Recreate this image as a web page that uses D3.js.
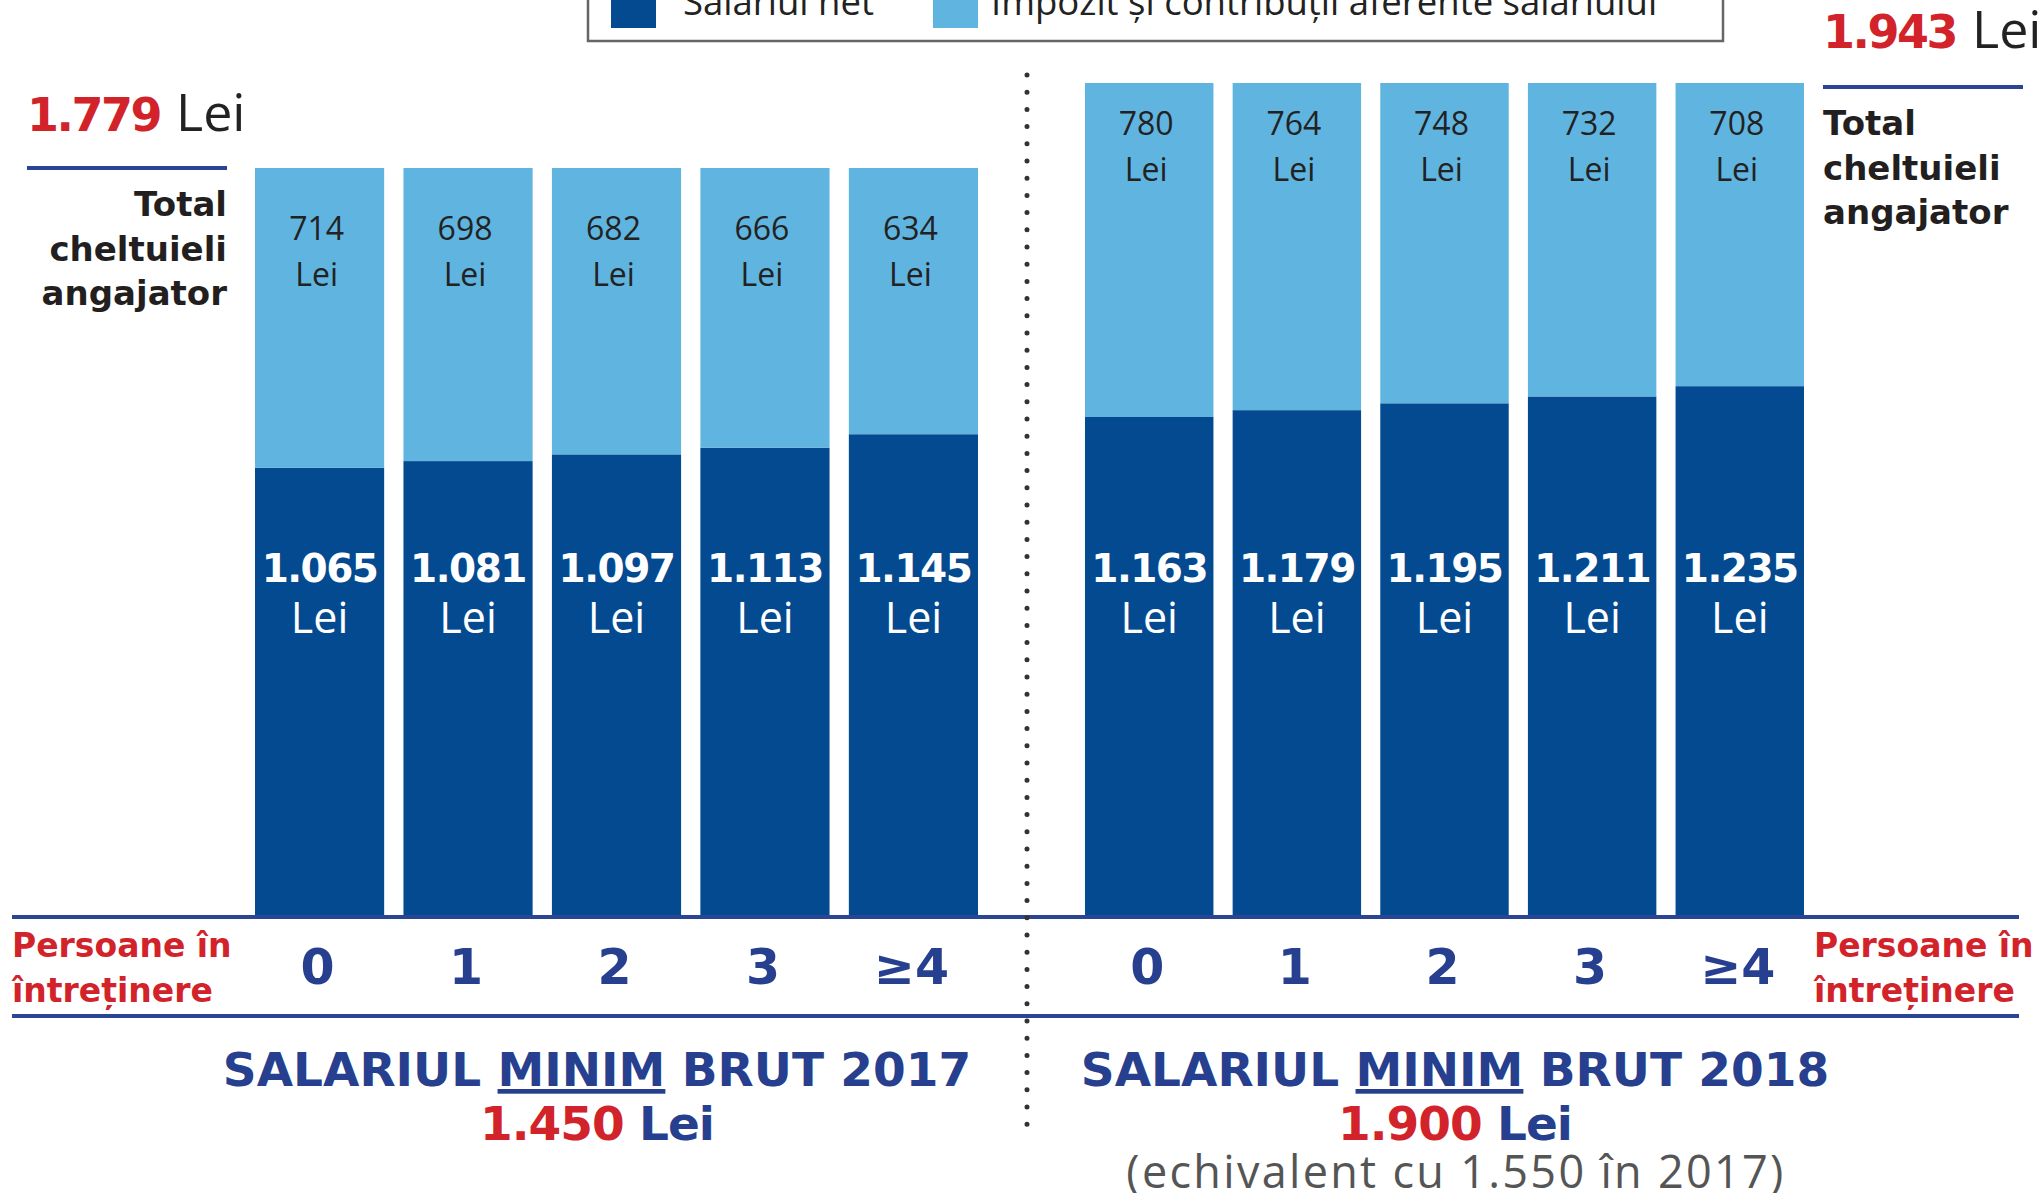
<!DOCTYPE html>
<html>
<head>
<meta charset="utf-8">
<script src="https://cdn.jsdelivr.net/npm/d3@7"></script>
<style>
  html, body { margin: 0; padding: 0; background: #fff; }
  svg { display: block; }
</style>
</head>
<body>
<script>
// ---------- DATA ----------
const categories = ["0", "1", "2", "3", "≥4"];
const net2017 = [1065, 1081, 1097, 1113, 1145];
const tax2017 = [714, 698, 682, 666, 634];
const net2018 = [1163, 1179, 1195, 1211, 1235];
const tax2018 = [780, 764, 748, 732, 708];
const years = [2017, 2018];
const totalCost = [1779, 1943];
const grossWage = [1450, 1900];
const notes = ["", "(echivalent cu 1.550 în 2017)"];
const legendLabels = ["Salariul net", "Impozit și contribuții aferente salariului"];
const axisTitle = ["Persoane în", "întreținere"];
const totalLabel = ["Total", "cheltuieli", "angajator"];

// ---------- STYLE / LAYOUT ----------
const W = 2042, H = 1193;
const C_NET = "#034a91", C_TAX = "#60b4e0", C_RED = "#d2232a", C_NAVY = "#263f8e", C_LINE = "#2b4595";
const BOLD = "'DejaVu Sans', sans-serif";
const REG = "'Open Sans', sans-serif";
const baseY = 915;
const layout = [
  { x0: 255, x1: 978, top: 168, taxDy: 72, center: 597 },
  { x0: 1085, x1: 1804, top: 83, taxDy: 52, center: 1455 }
];
const fmt = d3.formatLocale({ decimal: ",", thousands: ".", grouping: [3], currency: ["", ""] }).format(",");

const panels = [
  { net: net2017, tax: tax2017 },
  { net: net2018, tax: tax2018 }
];

const svg = d3.select("body").append("svg").attr("width", W).attr("height", H);

// ---------- LEGEND ----------
const lg = svg.append("g");
lg.append("rect").attr("x", 588).attr("y", -30).attr("width", 1135).attr("height", 71)
  .attr("fill", "#fff").attr("stroke", "#666").attr("stroke-width", 2.5);
const legendX = [611, 933];
const legendTextDx = [72, 58];
legendLabels.forEach((lab, i) => {
  lg.append("rect").attr("x", legendX[i]).attr("y", -20).attr("width", 45).attr("height", 48)
    .attr("fill", i === 0 ? C_NET : C_TAX);
  lg.append("text").attr("x", legendX[i] + legendTextDx[i]).attr("y", 15)
    .attr("font-family", REG).attr("font-size", 36.5).attr("fill", "#222").text(lab);
});

// ---------- BARS ----------
panels.forEach((p, k) => {
  const L = layout[k];
  const x = d3.scaleBand().domain(categories).range([L.x0, L.x1]).paddingInner(0.13).paddingOuter(0);
  const y = d3.scaleLinear().domain([0, totalCost[k]]).range([baseY, L.top]);
  const rows = categories.map((c, i) => ({ c, net: p.net[i], tax: p.tax[i] }));
  const g = svg.append("g");

  g.selectAll(".net").data(rows).join("rect")
    .attr("x", d => x(d.c)).attr("width", x.bandwidth())
    .attr("y", d => y(d.net)).attr("height", d => y(0) - y(d.net))
    .attr("fill", C_NET);
  g.selectAll(".tax").data(rows).join("rect")
    .attr("x", d => x(d.c)).attr("width", x.bandwidth())
    .attr("y", d => y(d.net + d.tax)).attr("height", d => y(d.net) - y(d.net + d.tax))
    .attr("fill", C_TAX);

  // tax labels
  const tl = g.selectAll(".tl").data(rows).join("text")
    .attr("text-anchor", "middle").attr("font-family", REG).attr("font-size", 32).attr("fill", "#222");
  tl.append("tspan").attr("x", d => x(d.c) + x.bandwidth() / 2 - 3)
    .attr("y", d => y(d.net + d.tax) + L.taxDy).text(d => fmt(d.tax));
  tl.append("tspan").attr("x", d => x(d.c) + x.bandwidth() / 2 - 3)
    .attr("y", d => y(d.net + d.tax) + L.taxDy + 46).text("Lei");

  // net labels
  g.selectAll(".nl").data(rows).join("text")
    .attr("x", d => x(d.c) + x.bandwidth() / 2).attr("y", 582)
    .attr("text-anchor", "middle").attr("font-family", BOLD).attr("font-weight", "bold")
    .attr("font-size", 39).attr("letter-spacing", -1.5).attr("fill", "#fff").text(d => fmt(d.net));
  g.selectAll(".nl2").data(rows).join("text")
    .attr("x", d => x(d.c) + x.bandwidth() / 2).attr("y", 633)
    .attr("text-anchor", "middle").attr("font-family", REG).attr("font-size", 43)
    .attr("fill", "#fff").text("Lei");

  // category axis
  const ax = svg.append("g").attr("transform", `translate(0,${917})`)
    .call(d3.axisBottom(x).tickSize(0));
  ax.select(".domain").remove();
  ax.selectAll("text").attr("dy", null).attr("y", 67).attr("dx", -2)
    .attr("font-family", BOLD).attr("font-weight", "bold").attr("font-size", 49).attr("fill", C_NAVY);

  // bottom titles
  const t = svg.append("text").attr("x", L.center).attr("y", 1086).attr("text-anchor", "middle")
    .attr("font-family", BOLD).attr("font-weight", "bold").attr("font-size", 47).attr("fill", C_NAVY);
  t.append("tspan").text("SALARIUL ");
  t.append("tspan").attr("text-decoration", "underline").text("MINIM");
  t.append("tspan").text(" BRUT " + years[k]);

  const gw = svg.append("text").attr("x", L.center).attr("y", 1140).attr("text-anchor", "middle")
    .attr("font-family", BOLD).attr("font-weight", "bold").attr("font-size", 47).attr("letter-spacing", -1);
  gw.append("tspan").attr("fill", C_RED).text(fmt(grossWage[k]));
  gw.append("tspan").attr("fill", C_NAVY).text(" Lei");

  if (notes[k]) {
    svg.append("text").attr("x", L.center + 1).attr("y", 1188).attr("text-anchor", "middle")
      .attr("font-family", REG).attr("font-size", 45).attr("letter-spacing", 2.3).attr("fill", "#555").text(notes[k]);
  }
});

// ---------- TOTAL ANNOTATIONS ----------
const totalPos = [
  { x: 27, base: 131, lineY: 168, tx: 227, tAnchor: "end", tBase: 216 },
  { x: 1823, base: 48, lineY: 87, tx: 1823, tAnchor: "start", tBase: 135 }
];
totalCost.forEach((v, k) => {
  const P = totalPos[k];
  const t = svg.append("text").attr("x", P.x).attr("y", P.base);
  t.append("tspan").attr("font-family", BOLD).attr("font-weight", "bold").attr("font-size", 46)
    .attr("letter-spacing", -2.5).attr("fill", C_RED).text(fmt(v));
  t.append("tspan").attr("dx", 16).attr("font-family", REG).attr("font-size", 52).attr("fill", "#222").text("Lei");
  svg.append("line").attr("x1", P.x).attr("x2", P.x + 200).attr("y1", P.lineY).attr("y2", P.lineY)
    .attr("stroke", C_LINE).attr("stroke-width", 4);
  const tt = svg.append("text").attr("text-anchor", P.tAnchor)
    .attr("font-family", BOLD).attr("font-weight", "bold").attr("font-size", 34).attr("fill", "#231f20");
  totalLabel.forEach((s, i) => tt.append("tspan").attr("x", P.tx).attr("y", P.tBase + i * 44.5).text(s));
});

// ---------- AXIS TITLES / RULES ----------
[12, 1814].forEach(xx => {
  const t = svg.append("text").attr("font-family", BOLD).attr("font-weight", "bold")
    .attr("font-size", 33).attr("fill", C_RED);
  axisTitle.forEach((s, i) => t.append("tspan").attr("x", xx).attr("y", 957 + i * 45).text(s));
});
[917, 1016].forEach(yy => {
  svg.append("line").attr("x1", 12).attr("x2", 2019).attr("y1", yy).attr("y2", yy)
    .attr("stroke", C_LINE).attr("stroke-width", 4);
});
svg.append("line").attr("x1", 1027).attr("x2", 1027).attr("y1", 75).attr("y2", 1133)
  .attr("stroke", "#333").attr("stroke-width", 5).attr("stroke-linecap", "round")
  .attr("stroke-dasharray", "0 17.2");
</script>
</body>
</html>
